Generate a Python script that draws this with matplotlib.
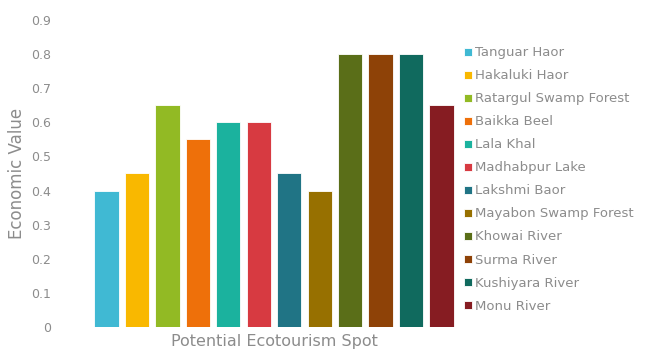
import matplotlib
matplotlib.use('Agg')
import matplotlib.pyplot as plt

spots = ['Tanguar Haor', 'Hakaluki Haor', 'Ratargul Swamp Forest', 'Baikka Beel',
         'Lala Khal', 'Madhabpur Lake', 'Lakshmi Baor', 'Mayabon Swamp Forest',
         'Khowai River', 'Surma River', 'Kushiyara River', 'Monu River']
values = [0.40, 0.45, 0.65, 0.55, 0.60, 0.60, 0.45, 0.40, 0.80, 0.80, 0.80, 0.65]
colors = ['#40B9D3', '#F9B800', '#92BA24', '#EE700A', '#1BB29E', '#D73A41',
          '#207485', '#977000', '#5A6E18', '#8E4207', '#106A5E', '#861C22']
yticks = [0, 0.1, 0.2, 0.3, 0.4, 0.5, 0.6, 0.7, 0.8, 0.9]

grey = '#8C8C8C'

fig = plt.figure(figsize=(6.46, 3.51), dpi=100)
ax = fig.add_axes([79 / 646, 24 / 351, 390 / 646, 307 / 351])

handles = []
for i in range(len(spots)):
    b = ax.bar(i, values[i], width=0.8, color=colors[i], edgecolor='white',
               linewidth=0.6, label=spots[i])
    handles.append(b)

ax.set_xlim(-0.9, 11.9)
ax.set_ylim(0, 0.9)
ax.set_yticks(yticks)
ax.set_yticklabels(['0' if t == 0 else '%.1f' % t for t in yticks])
ax.set_xticks([])
ax.tick_params(axis='y', length=0, pad=20, labelsize=9, labelcolor=grey)
for s in ax.spines.values():
    s.set_visible(False)

ax.set_ylabel('Economic Value', fontsize=12, color=grey, labelpad=4)
ax.set_xlabel('Potential Ecotourism Spot', fontsize=11.5, color=grey, labelpad=5)

leg = fig.legend(handles=handles, loc='upper left', bbox_to_anchor=(459 / 646, 1 - 41 / 351),
                 frameon=False, fontsize=9.5, handlelength=0.55, handleheight=0.55,
                 handletextpad=0.3, labelspacing=0.76, borderaxespad=0)
for t in leg.get_texts():
    t.set_color(grey)

fig.savefig('out.png', dpi=100)
